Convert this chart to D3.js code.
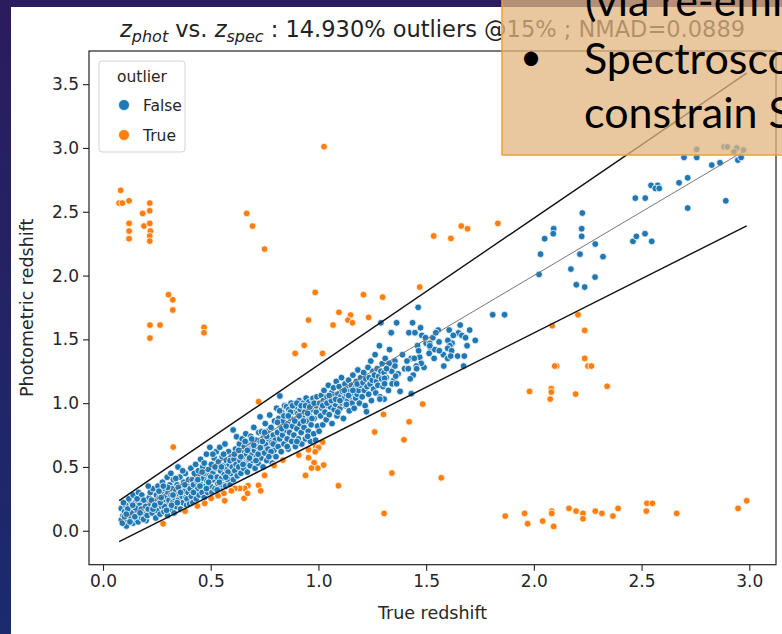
<!DOCTYPE html>
<html><head><meta charset="utf-8">
<script src="https://cdn.jsdelivr.net/npm/d3@7"></script>
<style>body{margin:0;padding:0;overflow:hidden;background:#fff}svg{display:block}</style>
</head><body>
<script>
// ---------------- data ----------------
const xTicks = [0, 0.5, 1, 1.5, 2, 2.5, 3];
const yTicks = [0, 0.5, 1, 1.5, 2, 2.5, 3, 3.5];
const legendLabels = ["False", "True"];
const titleStats = " : 14.930% outliers @15% ; NMAD=0.0889";
// reference lines (z_spec range, y = x and ±15%(1+z) bounds)
const lineX = [0.075, 2.988];
const lineMid = [0.075, 2.988];
const lineUpper = [0.236, 3.586];
const lineLower = [-0.086, 2.390];

// inliers (outlier = False): [z_spec, z_phot]
const inlierPoints = [
[0.085,0.175],[0.109,0.037],[0.124,0.215],[0.085,0.084],[0.093,0.12],[0.1,0.15],[0.09,0.06],[0.112,0.09],[0.118,0.13],[0.105,0.2],[0.13,0.1],[0.135,0.17],[0.14,0.06],[0.145,0.13],[0.15,0.22],[0.155,0.09],[0.16,0.16],[0.163,0.07],[0.168,0.12],[0.17,0.2],[0.175,0.25],[0.18,0.1],[0.185,0.15],[0.19,0.18],[0.195,0.13],[0.2,0.22],[0.2,0.08],[0.12,0.25],[0.14,0.28],[0.165,0.3],[0.18,0.28],[0.13,0.14],[0.1,0.11],[0.15,0.18],[0.178,0.17],[0.19,0.24],[0.095,0.22],[0.115,0.17],[0.148,0.11],[0.158,0.25],[0.172,0.14],[0.188,0.09],[0.198,0.19],[0.125,0.07],[0.138,0.2],[0.108,0.13],
[0.205,0.12],[0.21,0.17],[0.215,0.26],[0.22,0.3],[0.222,0.21],[0.228,0.14],[0.232,0.33],[0.236,0.19],[0.24,0.24],[0.245,0.1],[0.248,0.28],[0.25,0.16],[0.255,0.35],[0.258,0.21],[0.262,0.26],[0.265,0.13],[0.27,0.3],[0.272,0.19],[0.276,0.38],[0.28,0.24],[0.283,0.15],[0.287,0.33],[0.29,0.27],[0.294,0.2],[0.298,0.42],[0.3,0.12],[0.302,0.3],[0.306,0.24],[0.31,0.36],[0.313,0.17],[0.316,0.28],[0.32,0.33],[0.323,0.22],[0.327,0.4],[0.33,0.14],[0.333,0.26],[0.337,0.31],[0.34,0.19],[0.344,0.36],[0.348,0.5],[0.35,0.24],[0.353,0.29],[0.357,0.42],[0.36,0.17],[0.364,0.34],[0.368,0.27],[0.372,0.22],[0.375,0.38],[0.378,0.31],[0.382,0.45],[0.385,0.26],[0.388,0.2],[0.392,0.35],[0.395,0.3],[0.398,0.4],[0.225,0.24],[0.26,0.31],[0.285,0.19],[0.315,0.45],[0.345,0.22],[0.37,0.47],[0.3,0.34],[0.35,0.34],[0.28,0.35],[0.232,0.17],[0.265,0.22],[0.295,0.16],[0.325,0.28],[0.36,0.3],[0.39,0.25],[0.21,0.35],[0.24,0.2],[0.27,0.26],[0.318,0.2],[0.338,0.41],[0.38,0.36],
[0.402,0.21],[0.405,0.33],[0.408,0.49],[0.41,0.27],[0.414,0.4],[0.417,0.22],[0.42,0.36],[0.424,0.45],[0.427,0.3],[0.43,0.52],[0.433,0.25],[0.436,0.39],[0.44,0.33],[0.443,0.47],[0.446,0.28],[0.45,0.42],[0.453,0.56],[0.456,0.36],[0.46,0.3],[0.463,0.5],[0.466,0.41],[0.47,0.26],[0.473,0.45],[0.476,0.35],[0.48,0.6],[0.483,0.39],[0.486,0.3],[0.49,0.48],[0.493,0.43],[0.496,0.654],[0.5,0.35],[0.503,0.52],[0.506,0.3],[0.51,0.45],[0.513,0.4],[0.516,0.57],[0.52,0.33],[0.523,0.49],[0.526,0.62],[0.53,0.42],[0.533,0.37],[0.536,0.54],[0.542,0.654],[0.543,0.33],[0.546,0.47],[0.55,0.41],[0.553,0.58],[0.556,0.36],[0.56,0.51],[0.563,0.44],[0.566,0.68],[0.57,0.35],[0.573,0.55],[0.576,0.48],[0.58,0.4],[0.583,0.62],[0.586,0.52],[0.59,0.36],[0.593,0.45],[0.596,0.58],[0.6,0.5],[0.604,0.79],[0.42,0.3],[0.44,0.4],[0.46,0.46],[0.48,0.33],[0.5,0.42],[0.52,0.5],[0.54,0.38],[0.56,0.6],[0.58,0.46],[0.45,0.35],[0.47,0.53],[0.49,0.38],[0.51,0.6],[0.53,0.32],[0.55,0.5],[0.57,0.42],[0.59,0.55],
[0.605,0.4],[0.608,0.56],[0.612,0.47],[0.615,0.64],[0.618,0.52],[0.62,0.737],[0.623,0.43],[0.626,0.6],[0.63,0.5],[0.633,0.68],[0.636,0.55],[0.64,0.45],[0.643,0.62],[0.646,0.72],[0.65,0.58],[0.653,0.49],[0.656,0.66],[0.66,0.53],[0.663,0.76],[0.666,0.6],[0.67,0.46],[0.673,0.69],[0.676,0.56],[0.68,0.64],[0.683,0.51],[0.686,0.74],[0.69,0.6],[0.693,0.68],[0.696,0.55],[0.7,0.81],[0.703,0.63],[0.706,0.49],[0.71,0.71],[0.713,0.58],[0.716,0.66],[0.72,0.53],[0.723,0.77],[0.726,0.62],[0.729,0.893],[0.73,0.7],[0.733,0.57],[0.736,0.776],[0.74,0.66],[0.743,0.5],[0.746,0.73],[0.75,0.61],[0.753,0.84],[0.756,0.68],[0.76,0.55],[0.763,0.78],[0.766,0.64],[0.77,0.72],[0.774,0.907],[0.776,0.59],[0.78,0.81],[0.783,0.69],[0.786,0.53],[0.79,0.75],[0.793,0.63],[0.796,0.86],[0.8,0.71],[0.61,0.6],[0.64,0.58],[0.66,0.7],[0.68,0.57],[0.7,0.67],[0.72,0.6],[0.74,0.7],[0.76,0.74],[0.78,0.62],[0.63,0.63],[0.65,0.52],[0.67,0.63],[0.69,0.72],[0.71,0.55],[0.73,0.65],[0.75,0.77],[0.77,0.58],[0.79,0.68],
[0.803,0.58],[0.806,0.96],[0.81,0.77],[0.813,0.66],[0.816,0.88],[0.82,0.72],[0.821,1.056],[0.824,0.82],[0.827,0.62],[0.83,0.93],[0.833,0.75],[0.836,0.86],[0.84,0.68],[0.843,0.98],[0.846,0.79],[0.85,0.9],[0.852,0.972],[0.855,0.72],[0.858,0.84],[0.86,0.64],[0.863,0.95],[0.866,0.77],[0.87,0.88],[0.873,1.0],[0.876,0.7],[0.88,0.82],[0.883,0.93],[0.886,0.75],[0.89,0.98],[0.893,0.66],[0.896,0.87],[0.898,0.972],[0.9,0.8],[0.904,0.92],[0.907,0.72],[0.91,1.02],[0.913,0.84],[0.916,0.95],[0.92,0.77],[0.923,0.68],[0.926,0.89],[0.93,1.0],[0.933,0.81],[0.936,0.93],[0.94,0.72],[0.943,1.04],[0.946,0.86],[0.95,0.97],[0.953,0.78],[0.956,1.01],[0.96,0.9],[0.963,0.7],[0.966,0.83],[0.97,0.95],[0.973,1.03],[0.975,1.038],[0.978,0.76],[0.98,0.88],[0.984,0.99],[0.987,0.71],[0.99,0.93],[0.993,1.05],[0.996,0.82],[0.81,0.85],[0.83,0.8],[0.85,0.82],[0.87,0.93],[0.89,0.86],[0.91,0.9],[0.93,0.86],[0.95,0.92],[0.97,0.88],[0.99,0.98],[0.82,0.94],[0.84,0.9],[0.86,0.9],[0.88,0.98],[0.9,1.0],[0.92,0.98],[0.94,0.98],[0.96,0.97],[0.98,1.0],[0.855,0.66],[0.9,0.7],[0.95,0.74],
[1.003,0.78],[1.006,1.0],[1.01,0.9],[1.013,1.06],[1.016,0.96],[1.02,0.83],[1.023,1.02],[1.026,1.1],[1.03,0.93],[1.033,1.0],[1.036,0.87],[1.04,1.05],[1.043,0.98],[1.046,1.14],[1.05,0.91],[1.053,1.03],[1.056,0.97],[1.06,1.08],[1.063,0.84],[1.066,1.01],[1.07,1.12],[1.073,0.95],[1.076,1.05],[1.08,0.99],[1.083,1.17],[1.086,0.9],[1.09,1.07],[1.093,1.02],[1.096,1.13],[1.1,0.96],[1.104,1.05],[1.107,1.2],[1.11,1.0],[1.113,1.09],[1.116,0.88],[1.12,1.04],[1.123,1.15],[1.126,0.98],[1.13,1.07],[1.133,1.11],[1.136,1.02],[1.14,1.18],[1.143,0.94],[1.146,1.09],[1.15,1.05],[1.153,1.14],[1.156,1.0],[1.16,1.22],[1.163,1.08],[1.166,0.96],[1.17,1.12],[1.173,1.04],[1.176,1.17],[1.18,1.07],[1.183,1.26],[1.186,1.1],[1.19,1.0],[1.193,1.14],[1.196,1.2],[1.02,0.98],[1.04,1.0],[1.06,1.02],[1.08,1.03],[1.1,1.02],[1.12,1.1],[1.14,1.06],[1.16,1.1],[1.18,1.15],[1.05,1.06],[1.09,0.93],[1.13,0.99],
[1.203,1.05],[1.207,1.16],[1.21,1.24],[1.213,1.1],[1.217,0.98],[1.22,1.19],[1.223,0.933],[1.226,1.13],[1.23,1.28],[1.233,1.07],[1.236,1.2],[1.24,1.15],[1.243,1.33],[1.246,1.02],[1.25,1.18],[1.253,1.25],[1.256,1.11],[1.26,1.22],[1.263,1.38],[1.266,1.08],[1.27,1.17],[1.273,1.27],[1.276,1.14],[1.28,1.21],[1.283,1.45],[1.286,1.05],[1.29,1.25],[1.29,1.63],[1.293,1.19],[1.296,1.31],[1.3,1.13],[1.305,1.24],[1.31,1.35],[1.315,1.2],[1.32,1.28],[1.325,1.1],[1.33,1.42],[1.336,1.552],[1.34,1.25],[1.345,1.3],[1.35,1.18],[1.363,1.63],
[1.37,1.23],[1.39,1.38],[1.4,1.27],[1.43,1.35],[1.44,1.22],[1.46,1.45],[1.47,1.36],[1.49,1.28],[1.5,1.47],[1.52,1.43],[1.54,1.42],[1.56,1.48],[1.58,1.38],[1.62,1.47],[1.65,1.55],[1.69,1.45],
[1.809,1.693],[1.864,1.693],[1.463,1.751],[1.363,1.63],[1.437,1.63],[1.474,1.591],[1.338,1.552],[1.42,1.552],[1.448,1.552],[1.48,1.531],[1.497,1.513],[1.531,1.513],[1.556,1.573],[1.545,1.552],[1.607,1.573],[1.626,1.531],[1.658,1.612],[1.666,1.531],[1.683,1.513],[1.702,1.573],[1.728,1.492],[1.517,1.469],[1.517,1.45],[1.601,1.492],[1.61,1.45],[1.6,1.429],[1.618,1.411],[1.561,1.411],[1.465,1.411],[1.514,1.39],[1.537,1.351],[1.6,1.351],[1.614,1.369],[1.646,1.369],[1.677,1.369],[1.411,1.33],[1.445,1.351],[1.477,1.312],[1.454,1.291],[1.417,1.27],[1.456,1.27],[1.582,1.291],[1.674,1.291],[1.355,1.33],[1.355,1.291],[1.328,1.312],[1.316,1.27],[1.359,1.212],[1.342,1.152],[1.363,1.152],[1.307,1.194],[1.307,1.152],[1.379,1.092],[1.426,1.191],[1.431,1.074],[1.305,1.032],[1.285,1.032],
[2.225,2.49],[2.092,2.367],[2.09,2.328],[2.05,2.289],[2.031,2.168],[2.024,2.009],[2.222,2.367],[2.222,2.307],[2.214,2.168],[2.285,2.247],[2.321,2.148],[2.172,2.051],[2.284,1.988],[2.197,1.928],[2.236,1.91],[2.46,2.268],[2.476,2.307],[2.516,2.328],[2.547,2.268],[2.471,2.607],[2.517,2.607],[2.544,2.707],[2.575,2.707],[2.564,2.683],[2.582,2.683],[2.674,2.727],[2.714,2.766],[2.714,2.529],[2.891,2.586],[2.826,2.866],[2.864,2.884],[2.697,2.926],[2.756,2.926],[2.947,2.905],[2.962,2.926],[2.756,2.989],[2.883,3.009],[2.898,3.009],[2.942,3.0],[2.973,2.984],[2.929,2.97]
];

// outliers (outlier = True): [z_spec, z_phot]
const outlierPoints = [
[0.082,2.668],[0.075,2.568],[0.09,2.568],[0.121,2.586],[0.121,2.409],[0.121,2.349],[0.121,2.289],[0.217,2.568],[0.217,2.508],[0.184,2.487],[0.19,2.388],[0.217,2.409],[0.22,2.349],[0.217,2.31],[0.217,2.27],[0.667,2.487],[0.694,2.388],[0.75,2.208],[0.304,1.85],[0.324,1.81],[0.324,1.73],[0.218,1.612],[0.265,1.612],[0.218,1.51],[0.469,1.594],[0.469,1.552],[0.985,1.868],[0.954,1.651],[0.892,1.39],[0.934,1.453],[1.019,1.39],[1.095,1.712],[1.149,1.69],[1.137,1.651],[1.158,1.63],[1.068,1.612],[1.209,1.85],[1.233,1.672],[1.298,1.831],[0.722,1.012],[1.302,0.912],[1.261,0.774],[0.326,0.656],[1.019,0.694],[1.003,0.658],[0.988,0.658],[1.026,3.01],
[1.535,2.31],[1.615,2.291],[1.663,2.388],[1.692,2.367],[1.833,2.409],[1.47,1.91],[2.205,1.693],[2.085,1.607],[2.236,1.57],[2.236,1.351],[2.106,1.291],[2.097,1.291],[2.251,1.291],[2.267,1.291],[2.34,1.132],[1.98,1.092],[2.081,1.113],[2.081,1.087],[2.076,1.032],[2.194,1.071],[1.484,0.993],[1.421,0.854],[1.397,0.713],[1.341,0.452],[1.57,0.415],[1.305,0.136],[1.867,0.115],[1.957,0.136],[1.971,0.055],[2.041,0.076],[2.083,0.154],[2.083,0.136],[2.092,0.034],[2.163,0.175],[2.196,0.154],[2.228,0.136],[2.228,0.094],[2.285,0.154],[2.316,0.136],[2.367,0.115],[2.391,0.175],[2.522,0.154],[2.525,0.215],[2.55,0.215],[2.663,0.136],[2.948,0.175],[2.988,0.235],
[1.093,0.353],[0.94,0.434],[1.0,0.65],[0.985,0.619],[0.954,0.635],[0.909,0.593],[0.954,0.572],[0.98,0.533],[1.024,0.515],[0.997,0.491],[0.968,0.491],[0.835,0.554],[0.794,0.512],[0.75,0.434],[0.722,0.356],[0.732,0.313],[0.673,0.353],[0.658,0.332],[0.635,0.332],[0.612,0.332],[0.655,0.254],[0.671,0.293],[0.596,0.313],[0.561,0.293],[0.565,0.235],[0.534,0.274],[0.502,0.254],[0.472,0.215],[0.438,0.194],[0.381,0.154],[0.279,0.055]
];

// ---------------- drawing ----------------
const W = 782, H = 634;
const FONT = "'DejaVu Sans', sans-serif";
const svg = d3.select("body").append("svg").attr("width", W).attr("height", H);
const defs = svg.append("defs");
const grad = defs.append("linearGradient").attr("id","slidebg").attr("x1",0).attr("y1",0).attr("x2",0).attr("y2",1);
grad.append("stop").attr("offset","0%").attr("stop-color","#2b1c5e");
grad.append("stop").attr("offset","100%").attr("stop-color","#1a2b6e");
svg.append("rect").attr("width",W).attr("height",H).attr("fill","url(#slidebg)");
// screenshot panel
svg.append("rect").attr("x",11).attr("y",7).attr("width",W-11).attr("height",H-7).attr("fill","#ffffff");

const plotL = 89, plotR = 776, plotT = 51, plotB = 564.7;
const x = d3.scaleLinear().domain([-0.065, 3.124]).range([plotL, plotR]);
const y = d3.scaleLinear().domain([-0.266, 3.76]).range([plotB, plotT]);

const clip = defs.append("clipPath").attr("id","plotclip");
clip.append("rect").attr("x",plotL).attr("y",plotT).attr("width",plotR-plotL).attr("height",plotB-plotT);

const gPts = svg.append("g").attr("clip-path","url(#plotclip)");
gPts.selectAll("circle.in").data(inlierPoints).join("circle").attr("class","in")
  .attr("cx", d => x(d[0])).attr("cy", d => y(d[1])).attr("r", 3.4)
  .attr("fill", "#1f77b4").attr("stroke", "#fff").attr("stroke-width", 0.8);
gPts.selectAll("circle.out").data(outlierPoints).join("circle").attr("class","out")
  .attr("cx", d => x(d[0])).attr("cy", d => y(d[1])).attr("r", 3.4)
  .attr("fill", "#ff7f0e").attr("stroke", "#fff").attr("stroke-width", 0.8);

const lineGen = d3.line().x(d => x(d[0])).y(d => y(d[1]));
const mk = ys => lineX.map((v,i) => [v, ys[i]]);
gPts.append("path").attr("d", lineGen(mk(lineMid))).attr("fill","none").attr("stroke","#777").attr("stroke-width",1);
gPts.append("path").attr("d", lineGen(mk(lineUpper))).attr("fill","none").attr("stroke","#111").attr("stroke-width",1.4);
gPts.append("path").attr("d", lineGen(mk(lineLower))).attr("fill","none").attr("stroke","#111").attr("stroke-width",1.4);

// axes
const xAxis = d3.axisBottom(x).tickValues(xTicks).tickFormat(d3.format(".1f")).tickSize(6).tickPadding(4);
const yAxis = d3.axisLeft(y).tickValues(yTicks).tickFormat(d3.format(".1f")).tickSize(6).tickPadding(4);
const gx = svg.append("g").attr("transform",`translate(0,${plotB})`).call(xAxis);
const gy = svg.append("g").attr("transform",`translate(${plotL},0)`).call(yAxis);
[gx, gy].forEach(g => {
  g.select(".domain").remove();
  g.selectAll("line").attr("stroke","#222").attr("stroke-width",1.1);
  g.selectAll("text").attr("font-family",FONT).attr("font-size",17).attr("fill","#262626");
});
// frame
svg.append("rect").attr("x",plotL).attr("y",plotT).attr("width",plotR-plotL).attr("height",plotB-plotT)
  .attr("fill","none").attr("stroke","#222").attr("stroke-width",1.2);

// axis labels
svg.append("text").attr("x",(plotL+plotR)/2).attr("y",619).attr("text-anchor","middle")
  .attr("font-family",FONT).attr("font-size",17.5).attr("fill","#262626").text("True redshift");
svg.append("text").attr("transform",`translate(33,${(plotT+plotB)/2}) rotate(-90)`).attr("text-anchor","middle")
  .attr("font-family",FONT).attr("font-size",17.5).attr("fill","#262626").text("Photometric redshift");

// title
const title = svg.append("text").attr("x",(plotL+plotR)/2).attr("y",37).attr("text-anchor","middle")
  .attr("font-family",FONT).attr("font-size",22.5).attr("fill","#222");
title.append("tspan").attr("font-style","italic").text("z");
title.append("tspan").attr("font-style","italic").attr("font-size",16).attr("dy",5).text("phot");
title.append("tspan").attr("dy",-5).text(" vs. ");
title.append("tspan").attr("font-style","italic").text("z");
title.append("tspan").attr("font-style","italic").attr("font-size",16).attr("dy",5).text("spec");
title.append("tspan").attr("dy",-5).text(titleStats);

// legend
const lg = svg.append("g");
lg.append("rect").attr("x",99).attr("y",61).attr("width",86).attr("height",91).attr("rx",3)
  .attr("fill","#fff").attr("fill-opacity",0.8).attr("stroke","#d4d4d4").attr("stroke-width",1);
lg.append("text").attr("x",142).attr("y",82).attr("text-anchor","middle").attr("font-family",FONT)
  .attr("font-size",15.5).attr("fill","#262626").text("outlier");
const legColors = ["#1f77b4","#ff7f0e"];
legendLabels.forEach((lab,i) => {
  lg.append("circle").attr("cx",124).attr("cy",105+i*30).attr("r",5.5).attr("fill",legColors[i]).attr("stroke","#fff").attr("stroke-width",0.8);
  lg.append("text").attr("x",143).attr("y",111+i*30).attr("font-family",FONT).attr("font-size",15.5).attr("fill","#262626").text(lab);
});

// overlaid slide text box
const tb = svg.append("g");
tb.append("rect").attr("x",502).attr("y",-20).attr("width",300).attr("height",175)
  .attr("fill","rgb(226,182,128)").attr("fill-opacity",0.75).attr("stroke","#e6a23c").attr("stroke-width",1.5);
const BF = "Lato, 'Open Sans', sans-serif";
tb.append("text").attr("x",585).attr("y",16).attr("font-family",BF).attr("font-size",43).attr("fill","#000").text("(via re-emission");
tb.append("text").attr("x",531).attr("y",70).attr("text-anchor","middle").attr("font-family",BF).attr("font-size",38).attr("fill","#000").text("•");
tb.append("text").attr("x",584).attr("y",74).attr("font-family",BF).attr("font-size",43).attr("fill","#000").text("Spectroscopy");
tb.append("text").attr("x",584).attr("y",128).attr("font-family",BF).attr("font-size",43).attr("fill","#000").text("constrain SED");
</script>
</body></html>
